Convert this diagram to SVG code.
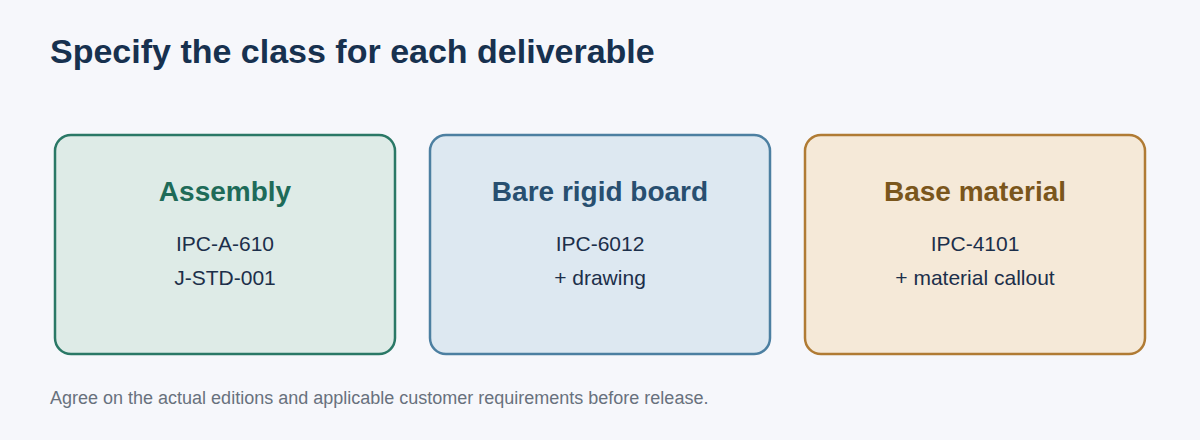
<svg xmlns="http://www.w3.org/2000/svg" width="1200" height="440" viewBox="0 0 1200 440">
<style>
.title{font-family:"Liberation Sans",Arial,sans-serif;font-size:34px;font-weight:bold;fill:#17314f}
.card{stroke-width:2.5}
.ct{font-family:"Liberation Sans",Arial,sans-serif;font-size:28px;font-weight:bold;text-anchor:middle}
.cl{font-family:"Liberation Sans",Arial,sans-serif;font-size:21px;fill:#1c2f4a;text-anchor:middle}
.foot{font-family:"Liberation Sans",Arial,sans-serif;font-size:18px;fill:#68717d}
</style>
<rect width="1200" height="440" fill="#f6f7fb"/>
<text class="title" x="50" y="63">Specify the class for each deliverable</text>
<g id="assembly">
<rect class="card" x="55" y="135" width="340" height="219" rx="16" fill="#deebe7" stroke="#2a7866"/>
<text class="ct" x="225" y="201" fill="#1e6b59">Assembly</text>
<text class="cl" x="225" y="251">IPC-A-610</text>
<text class="cl" x="225" y="285">J-STD-001</text>
</g>
<g id="bare-board">
<rect class="card" x="430" y="135" width="340" height="219" rx="16" fill="#dde8f1" stroke="#4c7fa1"/>
<text class="ct" x="600" y="201" fill="#284f70">Bare rigid board</text>
<text class="cl" x="600" y="251">IPC-6012</text>
<text class="cl" x="600" y="285">+ drawing</text>
</g>
<g id="base-material">
<rect class="card" x="805" y="135" width="340" height="219" rx="16" fill="#f5e9d8" stroke="#b07b34"/>
<text class="ct" x="975" y="201" fill="#7a561c">Base material</text>
<text class="cl" x="975" y="251">IPC-4101</text>
<text class="cl" x="975" y="285">+ material callout</text>
</g>
<g id="connectors"></g>
<text class="foot" x="50" y="404">Agree on the actual editions and applicable customer requirements before release.</text>
</svg>
